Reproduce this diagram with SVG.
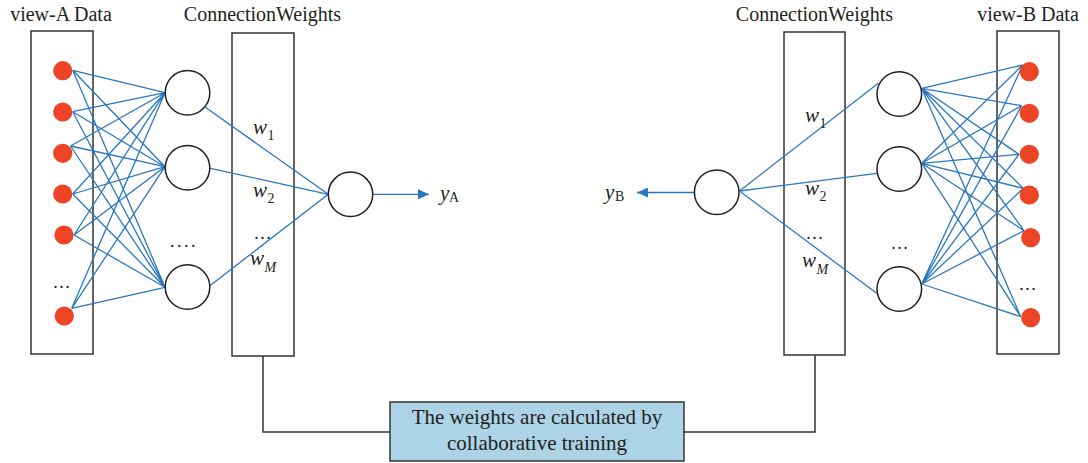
<svg xmlns="http://www.w3.org/2000/svg" width="1088" height="463" viewBox="0 0 1088 463">
<defs>
<style>
text{font-family:"Liberation Serif","Times New Roman",serif;fill:#231f20}
.title{font-size:20px;text-anchor:middle}
.lbl{font-size:21px;font-style:italic}
.sub{font-size:14px}
.dots{font-size:18px;text-anchor:middle}
.box{fill:none;stroke:#333;stroke-width:1.5}
.hid{fill:#fff;stroke:#231f20;stroke-width:1.5}
.dat{fill:#ee4426;stroke:none}
.w{stroke:#2a77c0;stroke-width:1.3;fill:none}
.link{stroke:#333;stroke-width:1.5;fill:none}
.note{fill:#acd3e6;stroke:#333;stroke-width:1.5}
.nt{font-size:21px;text-anchor:middle}
</style>
<marker id="arr" viewBox="0 0 11 10" refX="11" refY="5" markerWidth="11" markerHeight="10" markerUnits="userSpaceOnUse" orient="auto">
<path d="M0,0 L11,5 L0,10 Z" fill="#2a77c0"/>
</marker>
</defs>
<rect width="1088" height="463" fill="#fff"/>

<g id="viewA-box">
<rect class="box" x="31" y="31" width="62" height="323"/>
<text class="title" x="61" y="21">view-A Data</text>
</g>
<g id="cwA-box">
<rect class="box" x="232" y="33" width="62" height="323"/>
<text class="title" x="262.5" y="21">ConnectionWeights</text>
</g>
<g id="cwB-box">
<rect class="box" x="784" y="32" width="61" height="323"/>
<text class="title" x="814.5" y="21">ConnectionWeights</text>
</g>
<g id="viewB-box">
<rect class="box" x="997" y="31" width="62" height="323"/>
<text class="title" x="1028" y="21">view-B Data</text>
</g>

<g id="connectors">
<!-- view-A inputs to hidden A -->
<path class="w" d="M72.7,70.3L165,92.7M72.7,70.3L165,166.7M72.7,70.3L165,287.3
M72.7,111.7L165,92.7M72.7,111.7L165,166.7M72.7,111.7L165,287.3
M70.5,146L165,92.7M70.5,146L165,166.7M70.5,146L165,287.3
M72.7,194L165,92.7M72.7,194L165,166.7M72.7,194L165,287.3
M74,235L165,92.7M74,235L165,166.7M74,235L165,287.3
M71.7,308.3L165,92.7M71.7,308.3L165,166.7M71.7,308.3L165,287.3"/>
<!-- hidden A to output A -->
<path class="w" d="M205,107L328.3,194.3M210.5,168.3L328.3,194.3M209.5,286L328.3,194.3"/>
<line class="w" x1="373" y1="194.3" x2="429" y2="194.3" marker-end="url(#arr)"/>
<!-- output B to hidden B -->
<path class="w" d="M739.5,191L878.3,83.3M739.5,191L876.7,173.3M739.5,191L876.7,293.3"/>
<line class="w" x1="694.5" y1="192.5" x2="637" y2="192.5" marker-end="url(#arr)"/>
<!-- hidden B to view-B inputs -->
<path class="w" d="M921.7,88.3L1022.7,65M921.7,88.3L1021.7,105.7M921.7,88.3L1019,154.3M921.7,88.3L1023.3,188.3M921.7,88.3L1024,230.7M921.7,88.3L1020.7,316.7
M921.7,163.3L1022.7,65M921.7,163.3L1021.7,105.7M921.7,163.3L1019,154.3M921.7,163.3L1023.3,188.3M921.7,163.3L1024,230.7M921.7,163.3L1020.7,316.7
M921.7,284L1022.7,65M921.7,284L1021.7,105.7M921.7,284L1019,154.3M921.7,284L1023.3,188.3M921.7,284L1024,230.7M921.7,284L1020.7,316.7"/>
<!-- collaborative training links -->
<polyline class="link" points="263,356 263,432 390,432"/>
<polyline class="link" points="684,432 815,432 815,355"/>
</g>

<g id="viewA-inputs">
<circle class="dat" cx="62.7" cy="70.7" r="9.6"/>
<circle class="dat" cx="62.7" cy="112" r="9.6"/>
<circle class="dat" cx="62.7" cy="153.3" r="9.6"/>
<circle class="dat" cx="62.7" cy="194" r="9.6"/>
<circle class="dat" cx="64" cy="235" r="9.6"/>
<circle class="dat" cx="64.3" cy="316" r="9.6"/>
<text class="dots" x="61.5" y="288">…</text>
</g>
<g id="hiddenA">
<circle class="hid" cx="187.5" cy="92.7" r="22.3"/>
<circle class="hid" cx="187.5" cy="167.7" r="22.3"/>
<circle class="hid" cx="187.5" cy="287" r="22.3"/>
<text class="dots" x="184" y="247" letter-spacing="2.5">....</text>
</g>
<g id="weightsA">
<text class="lbl" x="253" y="134">w</text><text class="sub" x="267.5" y="140">1</text>
<text class="lbl" x="253" y="197">w</text><text class="sub" x="267.5" y="203">2</text>
<text class="dots" x="262.5" y="239">…</text>
<text class="lbl" x="250" y="265">w</text><text class="sub" x="264.5" y="272" font-style="italic">M</text>
</g>
<g id="outputA">
<circle class="hid" cx="350.5" cy="194.3" r="22.2"/>
<text class="lbl" x="440" y="200">y</text><text class="sub" x="449" y="202">A</text>
</g>

<g id="outputB">
<circle class="hid" cx="716.7" cy="192.2" r="22.3"/>
<text class="lbl" x="605" y="199">y</text><text class="sub" x="615" y="201">B</text>
</g>
<g id="weightsB">
<text class="lbl" x="805" y="122">w</text><text class="sub" x="819.5" y="128">1</text>
<text class="lbl" x="805" y="195">w</text><text class="sub" x="819.5" y="201">2</text>
<text class="dots" x="814.5" y="239">…</text>
<text class="lbl" x="802" y="267">w</text><text class="sub" x="816.5" y="274" font-style="italic">M</text>
</g>
<g id="hiddenB">
<circle class="hid" cx="899.3" cy="94" r="22.3"/>
<circle class="hid" cx="899.3" cy="169" r="22.3"/>
<circle class="hid" cx="899.3" cy="289" r="22.3"/>
<text class="dots" x="899.5" y="249">…</text>
</g>
<g id="viewB-inputs">
<circle class="dat" cx="1029.3" cy="71.7" r="9.6"/>
<circle class="dat" cx="1029.3" cy="113.3" r="9.6"/>
<circle class="dat" cx="1029.3" cy="154.3" r="9.6"/>
<circle class="dat" cx="1029.3" cy="195" r="9.6"/>
<circle class="dat" cx="1030.7" cy="237.7" r="9.6"/>
<circle class="dat" cx="1030.7" cy="317.7" r="9.6"/>
<text class="dots" x="1027.5" y="290">…</text>
</g>

<g id="collab-note">
<rect class="note" x="390" y="402" width="294" height="59"/>
<text class="nt" x="537" y="424">The weights are calculated by</text>
<text class="nt" x="537" y="450">collaborative training</text>
</g>
</svg>
